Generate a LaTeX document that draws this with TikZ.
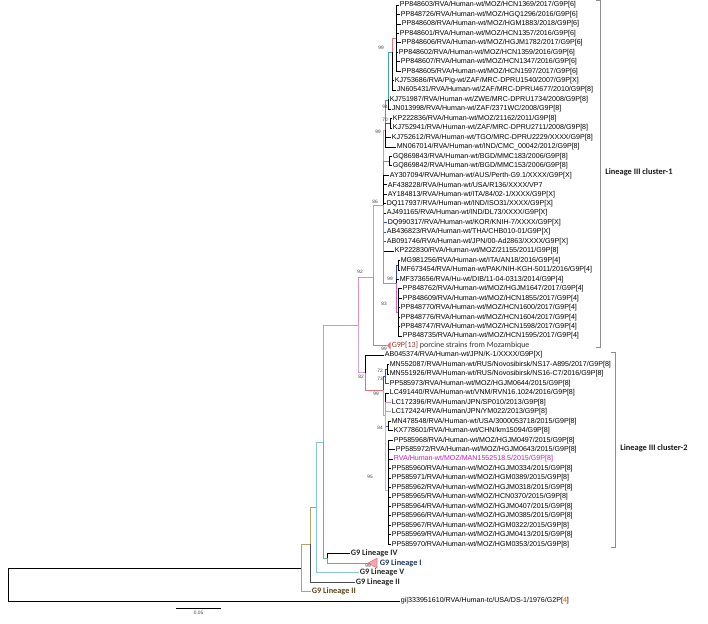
\documentclass[tikz,border=0pt]{standalone}
\usepackage{fontspec}
\setmainfont{Liberation Sans}
\newfontfamily\calibri{Carlito}
\definecolor{branchred}{HTML}{E8707A}
\definecolor{branchpink}{HTML}{E58CB8}
\definecolor{branchlilac}{HTML}{D3A6E8}
\definecolor{branchteal}{HTML}{3FA9A0}
\definecolor{branchblue}{HTML}{3048C0}
\definecolor{branchgreen}{HTML}{6DB88A}
\definecolor{branchcyan}{HTML}{86C5DA}
\definecolor{branchkhaki}{HTML}{B3A46C}
\definecolor{tagmagenta}{HTML}{C21FC2}
\definecolor{bracketgray}{HTML}{8C8C8C}
\definecolor{porcinebrown}{HTML}{8B3A2E}
\definecolor{lineagenavy}{HTML}{1F3864}
\definecolor{lineagebrown}{HTML}{5C4A1E}
\usepackage{tikz}

\begin{document}
\begin{tikzpicture}[x=1pt,y=-1pt,line width=0.65pt,
  leaf/.style={anchor=west,inner sep=0.5pt,font=\fontsize{7.1}{8}\selectfont},
  boot/.style={anchor=east,inner sep=0pt,font=\fontsize{4.8}{5}\selectfont,text=black!75},
  lineage/.style={anchor=west,inner sep=0.5pt,font=\calibri\bfseries\fontsize{8.3}{9}\selectfont},
  cladelabel/.style={anchor=west,inner sep=0pt,font=\calibri\bfseries\fontsize{8.4}{9}\selectfont,text=black!90}]
  \useasboundingbox (0,0) rectangle (708,623);

  % Lineage III cluster-1 taxa
  \node[leaf] (l1) at (399,5.0) {PP848603/RVA/Human-wt/MOZ/HCN1369/2017/G9P[6]};
  \node[leaf] (l2) at (400,14.5) {PP848726/RVA/Human-wt/MOZ/HGQ1296/2016/G9P[6]};
  \node[leaf] (l3) at (401,23.9) {PP848608/RVA/Human-wt/MOZ/HGM1883/2018/G9P[6]};
  \node[leaf] (l4) at (399,33.4) {PP848601/RVA/Human-wt/MOZ/HCN1357/2016/G9P[6]};
  \node[leaf] (l5) at (401,42.8) {PP848606/RVA/Human-wt/MOZ/HGJM1782/2017/G9P[6]};
  \node[leaf] (l6) at (398,52.3) {PP848602/RVA/Human-wt/MOZ/HCN1359/2016/G9P[6]};
  \node[leaf] (l7) at (400,61.8) {PP848607/RVA/Human-wt/MOZ/HCN1347/2016/G9P[6]};
  \node[leaf] (l8) at (401,71.2) {PP848605/RVA/Human-wt/MOZ/HCN1597/2017/G9P[6]};
  \node[leaf] (l9) at (394,80.7) {KJ753686/RVA/Pig-wt/ZAF/MRC-DPRU1540/2007/G9P[X]};
  \node[leaf] (l10) at (396,90.1) {JN605431/RVA/Human-wt/ZAF/MRC-DPRU4677/2010/G9P[8]};
  \node[leaf] (l11) at (389,99.6) {KJ751987/RVA/Human-wt/ZWE/MRC-DPRU1734/2008/G9P[8]};
  \node[leaf] (l12) at (391,109.1) {JN013998/RVA/Human-wt/ZAF/2371WC/2008/G9P[8]};
  \node[leaf] (l13) at (392,118.5) {KP222836/RVA/Human-wt/MOZ/21162/2011/G9P[8]};
  \node[leaf] (l14) at (392,128.0) {KJ752941/RVA/Human-wt/ZAF/MRC-DPRU2711/2008/G9P[8]};
  \node[leaf] (l15) at (391,137.4) {KJ752612/RVA/Human-wt/TGO/MRC-DPRU2229/XXXX/G9P[8]};
  \node[leaf] (l16) at (396,146.9) {MN067014/RVA/Human-wt/IND/CMC\_00042/2012/G9P[8]};
  \node[leaf] (l17) at (392,156.4) {GQ869843/RVA/Human-wt/BGD/MMC183/2006/G9P[8]};
  \node[leaf] (l18) at (392,165.8) {GQ869842/RVA/Human-wt/BGD/MMC153/2006/G9P[8]};
  \node[leaf] (l19) at (389,175.3) {AY307094/RVA/Human-wt/AUS/Perth-G9.1/XXXX/G9P[X]};
  \node[leaf] (l20) at (387,184.7) {AF438228/RVA/Human-wt/USA/R136/XXXX/VP7};
  \node[leaf] (l21) at (387,194.2) {AY184813/RVA/Human-wt/ITA/84/02-1/XXXX/G9P[X]};
  \node[leaf] (l22) at (386,203.7) {DQ117937/RVA/Human-wt/IND/ISO31/XXXX/G9P[X]};
  \node[leaf] (l23) at (386,213.1) {AJ491165/RVA/Human-wt/IND/DL73/XXXX/G9P[X]};
  \node[leaf] (l24) at (387,222.6) {DQ990317/RVA/Human-wt/KOR/KNIH-7/XXXX/G9P[X]};
  \node[leaf] (l25) at (386,232.0) {AB436823/RVA/Human-wt/THA/CHB010-01/G9P[X]};
  \node[leaf] (l26) at (386,241.5) {AB091746/RVA/Human-wt/JPN/00-Ad2863/XXXX/G9P[X]};
  \node[leaf] (l27) at (394,251.0) {KP222830/RVA/Human-wt/MOZ/21155/2011/G9P[8]};
  \node[leaf] (l28) at (400,260.4) {MG981256/RVA/Human-wt/ITA/AN18/2016/G9P[4]};
  \node[leaf] (l29) at (400,269.9) {MF673454/RVA/Human-wt/PAK/NIH-KGH-5011/2016/G9P[4]};
  \node[leaf] (l30) at (399,279.3) {MF373656/RVA/Hu-wt/DIB/11-04-0313/2014/G9P[4]};
  \node[leaf] (l31) at (402,288.8) {PP848762/RVA/Human-wt/MOZ/HGJM1647/2017/G9P[4]};
  \node[leaf] (l32) at (402,298.3) {PP848609/RVA/Human-wt/MOZ/HCN1855/2017/G9P[4]};
  \node[leaf] (l33) at (400,307.7) {PP848770/RVA/Human-wt/MOZ/HCN1600/2017/G9P[4]};
  \node[leaf] (l34) at (400,317.2) {PP848776/RVA/Human-wt/MOZ/HCN1604/2017/G9P[4]};
  \node[leaf] (l35) at (400,326.6) {PP848747/RVA/Human-wt/MOZ/HCN1598/2017/G9P[4]};
  \node[leaf] (l36) at (402,336.1) {PP848735/RVA/Human-wt/MOZ/HCN1595/2017/G9P[4]};
  \node[leaf,font=\calibri\fontsize{8}{9}\selectfont] (l37) at (391,345.6)
    {\textcolor{porcinebrown}{G9P[13]} \textcolor{black!80}{porcine strains from Mozambique}};

  % Lineage III cluster-2 taxa
  \node[leaf] (l38) at (384,355.0) {AB045374/RVA/Human-wt/JPN/K-1/XXXX/G9P[X]};
  \node[leaf] (l39) at (389,364.5) {MN552087/RVA/Human-wt/RUS/Novosibirsk/NS17-A895/2017/G9P[8]};
  \node[leaf] (l40) at (389,373.9) {MN551926/RVA/Human-wt/RUS/Novosibirsk/NS16-C7/2016/G9P[8]};
  \node[leaf] (l41) at (389,383.4) {PP585973/RVA/Human-wt/MOZ/HGJM0644/2015/G9P[8]};
  \node[leaf] (l42) at (389,392.9) {LC491440/RVA/Human-wt/VNM/RVN16.1024/2016/G9P[8]};
  \node[leaf] (l43) at (391,402.3) {LC172396/RVA/Human/JPN/SP010/2013/G9P[8]};
  \node[leaf] (l44) at (391,411.8) {LC172424/RVA/Human/JPN/YM022/2013/G9P[8]};
  \node[leaf] (l45) at (391,421.2) {MN478548/RVA/Human-wt/USA/3000053718/2015/G9P[8]};
  \node[leaf] (l46) at (393,430.7) {KX778601/RVA/Human-wt/CHN/km15094/G9P[8]};
  \node[leaf] (l47) at (393,440.2) {PP585968/RVA/Human-wt/MOZ/HGJM0497/2015/G9P[8]};
  \node[leaf] (l48) at (395,449.6) {PP585972/RVA/Human-wt/MOZ/HGJM0643/2015/G9P[8]};
  \node[leaf,text=tagmagenta] (l49) at (393,459.1) {RVA/Human-wt/MOZ/MAN1552518.5/2015/G9P[8]};
  \node[leaf] (l50) at (391,468.5) {PP585960/RVA/Human-wt/MOZ/HGJM0334/2015/G9P[8]};
  \node[leaf] (l51) at (391,478.0) {PP585971/RVA/Human-wt/MOZ/HGM0389/2015/G9P[8]};
  \node[leaf] (l52) at (391,487.5) {PP585962/RVA/Human-wt/MOZ/HGJM0318/2015/G9P[8]};
  \node[leaf] (l53) at (391,496.9) {PP585965/RVA/Human-wt/MOZ/HCN0370/2015/G9P[8]};
  \node[leaf] (l54) at (391,506.4) {PP585964/RVA/Human-wt/MOZ/HGJM0407/2015/G9P[8]};
  \node[leaf] (l55) at (391,515.8) {PP585966/RVA/Human-wt/MOZ/HGJM0385/2015/G9P[8]};
  \node[leaf] (l56) at (391,525.3) {PP585967/RVA/Human-wt/MOZ/HGM0322/2015/G9P[8]};
  \node[leaf] (l57) at (391,534.8) {PP585969/RVA/Human-wt/MOZ/HGJM0413/2015/G9P[8]};
  \node[leaf] (l58) at (391,544.2) {PP585970/RVA/Human-wt/MOZ/HGM0353/2015/G9P[8]};

  % other lineages and outgroup
  \node[lineage,text=black!85] (l59) at (350,553.7) {G9 Lineage IV};
  \node[lineage,text=lineagenavy] (l60) at (379,563.1) {G9 Lineage I};
  \node[lineage,text=black!85] (l61) at (359,572.6) {G9 Lineage V};
  \node[lineage,text=black!85] (l62) at (355,582.1) {G9 Lineage II};
  \node[lineage,text=lineagebrown] (l63) at (311,591.5) {G9 Lineage II};
  \node[leaf] (l64) at (400,601.0) {gi|333951610/RVA/Human-tc/USA/DS-1/1976/G2P[\textcolor{orange!80!black}{4}]};

  % internal nodes
  \coordinate (a1) at (396,38.1);
  \coordinate (a2) at (392,52);
  \coordinate (a3) at (388,100);
  \coordinate (a4) at (390,123.3);
  \coordinate (a5) at (385,130);
  \coordinate (a6) at (389,161.1);
  \coordinate (q) at (383,205);
  \coordinate (r) at (396,283);
  \coordinate (r1) at (398,265.2);
  \coordinate (r2) at (398,312);
  \coordinate (p) at (373,277);
  \coordinate (f) at (358,325);
  \coordinate (k) at (365,372.5);
  \coordinate (lo) at (383,390);
  \coordinate (m) at (385,376);
  \coordinate (m2) at (387,369.2);
  \coordinate (n) at (385,415);
  \coordinate (n2) at (388,426);
  \coordinate (n3) at (388,490);
  \coordinate (e) at (323,442);
  \coordinate (g) at (327,558);
  \coordinate (d) at (316,507);
  \coordinate (c) at (310,544);
  \coordinate (b) at (301,568);
  \coordinate (root) at (8,584.3);
  \coordinate (porc) at (387,345.6);
  \coordinate (lini) at (368,563.1);

  % cluster-1 branches
  \draw (a1) |- (l1.west) (a1) |- (l2.west) (a1) |- (l3.west) (a1) |- (l4.west)
        (a1) |- (l5.west) (a1) |- (l6.west) (a1) |- (l7.west) (a1) |- (l8.west);
  \draw[branchred] (a2) |- (a1);
  \draw (a2) |- (l9.west) (a2) |- (l10.west);
  \draw[branchteal] (a3) |- (a2);
  \draw (a3) |- (l11.west) (a3) |- (l12.west);
  \draw (a4) |- (l13.west) (a4) |- (l14.west);
  \draw[branchteal] (a5) |- (a3);
  \draw[branchblue] (a5) |- (a4);
  \draw (a5) |- (l15.west) (a5) |- (l16.west);
  \draw (a6) |- (l17.west) (a6) |- (l18.west);
  \draw[branchpink] (q) |- (a5);
  \draw[branchteal] (q) |- (a6);
  \draw (q) |- (l19.west) (q) |- (l20.west) (q) |- (l21.west) (q) |- (l22.west) (q) |- (l23.west);
  \draw[branchblue] (q) |- (l24.west) (q) |- (l25.west) (q) |- (l26.west);
  \draw (q) |- (l27.west);
  \draw[branchgreen] (q) |- (r);
  \draw[branchblue] (r) |- (r1);
  \draw (r) |- (l30.west);
  \draw[tagmagenta!70] (r) |- (r2);
  \draw (r1) |- (l28.west) (r1) |- (l29.west);
  \draw (r2) |- (l31.west) (r2) |- (l32.west) (r2) |- (l33.west)
        (r2) |- (l34.west) (r2) |- (l35.west) (r2) |- (l36.west);
  \draw[branchpink] (p) |- (q);
  \draw[branchred] (p) |- (porc);
  \fill[branchred] (porc) -- (390.5,341.8) -- (390.5,349.4) -- cycle;

  % cluster-2 branches
  \draw (k) |- (l38.west);
  \draw[branchred] (k) |- (lo);
  \draw[branchblue] (lo) |- (m);
  \draw[branchpink] (lo) |- (n);
  \draw[branchblue] (m) |- (m2) (m) |- (l41.west);
  \draw (m2) |- (l39.west) (m2) |- (l40.west);
  \draw (n) |- (l42.west);
  \draw[branchpink] (n) |- (l43.west) (n) |- (l44.west);
  \draw[branchblue] (n) |- (n2);
  \draw[branchlilac] (n) |- (n3);
  \draw (n2) |- (l45.west) (n2) |- (l46.west);
  \draw (n3) |- (l47.west) (n3) |- (l48.west) (n3) |- (l49.west) (n3) |- (l50.west)
        (n3) |- (l51.west) (n3) |- (l52.west) (n3) |- (l53.west) (n3) |- (l54.west)
        (n3) |- (l55.west) (n3) |- (l56.west) (n3) |- (l57.west) (n3) |- (l58.west);

  % backbone
  \draw[branchpink] (f) |- (p);
  \draw[branchlilac] (f) |- (k);
  \draw[branchpink] (e) |- (f);
  \draw[branchgreen] (e) |- (g);
  \draw (g) |- (l59.west);
  \draw[branchred] (g) |- (lini);
  \draw[branchred,fill=branchred!60] (lini) -- (377,558.3) -- (377,567.9) -- cycle;
  \draw[branchcyan] (d) |- (e) (d) |- (l61.west);
  \draw[branchkhaki] (c) |- (d);
  \draw[black!70] (c) |- (l62.west);
  \draw[branchkhaki] (b) |- (c) (b) |- (l63.west);
  \draw (root) |- (b) (root) |- (l64.west);

  % bootstrap values
  \node[boot] (bs1) at (384,48) {99};
  \node[boot] (bs2) at (388,107) {94};
  \node[boot] (bs3) at (388,119.5) {70};
  \node[boot] (bs4) at (381,132) {99};
  \node[boot] (bs5) at (378,202) {86};
  \node[boot] (bs6) at (363,272) {92};
  \node[boot] (bs7) at (393,279) {99};
  \node[boot] (bs8) at (387,303.5) {83};
  \node[boot] (bs9) at (387,348.5) {99};
  \node[boot] (bs10) at (364,377) {82};
  \node[boot] (bs11) at (383,370.5) {72};
  \node[boot] (bs12) at (383,378.5) {73};
  \node[boot] (bs13) at (379,393.5) {99};
  \node[boot] (bs14) at (383,428) {84};
  \node[boot] (bs15) at (373,477) {95};
  \node[boot] (bs16) at (371,566) {99};

  % clade brackets
  \draw[bracketgray,line width=0.6pt] (596,0.8) -- (600,0.8) -- (600,347) -- (596,347);
  \node[cladelabel] (cl1) at (605,172) {Lineage III cluster-1};
  \draw[bracketgray,line width=0.6pt] (611,352) -- (615,352) -- (615,547) -- (611,547);
  \node[cladelabel] (cl2) at (620,448) {Lineage III cluster-2};

  % scale bar
  \draw[line width=0.6pt] (176,608) -- (221,608);
  \node[boot,anchor=north] (sc) at (198.5,611) {0.05};
\end{tikzpicture}
\end{document}
